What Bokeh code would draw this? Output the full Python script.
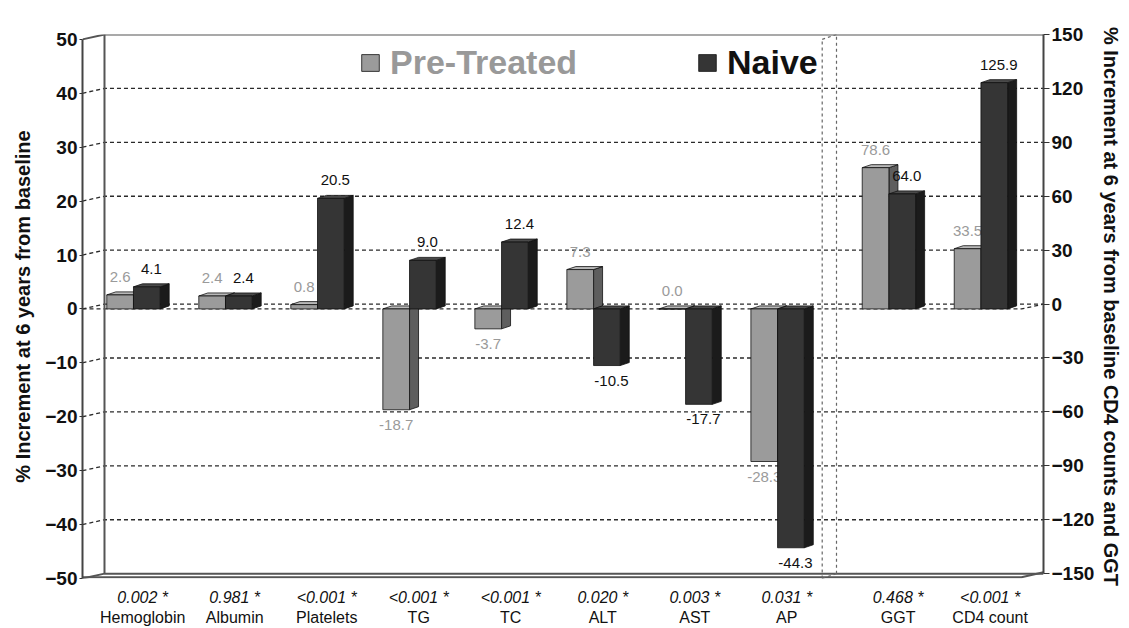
from bokeh.plotting import figure
from bokeh.models import Range1d, LinearAxis, FixedTicker, Legend, LegendItem, ColumnDataSource
from bokeh.core.properties import value
from bokeh.embed import file_html
from bokeh.resources import INLINE

# ---------------- data ----------------
categories = ["Hemoglobin", "Albumin", "Platelets", "TG", "TC", "ALT", "AST", "AP", "GGT", "CD4 count"]
p_values = ["0.002 *", "0.981 *", "<0.001 *", "<0.001 *", "<0.001 *", "0.020 *", "0.003 *", "0.031 *", "0.468 *", "<0.001 *"]
pre_treated = [2.6, 2.4, 0.8, -18.7, -3.7, 7.3, 0.0, -28.3, 78.6, 33.5]
naive = [4.1, 2.4, 20.5, 9.0, 12.4, -10.5, -17.7, -44.3, 64.0, 125.9]
on_right_axis = [False, False, False, False, False, False, False, False, True, True]
left_ticks = [-50, -40, -30, -20, -10, 0, 10, 20, 30, 40, 50]
right_ticks = [-150, -120, -90, -60, -30, 0, 30, 60, 90, 120, 150]

# ---------------- geometry / style ----------------
RIGHT_SCALE = 3.0
GAP = 0.21
BAR_W = 0.29
BDX, BDY = 0.098, 0.56          # bar depth
DX, DY = 0.239, 0.9             # wall depth
X0, X1 = -0.554, 9.89
Y0, Y1 = -50.0, 50.9
FONT = "Liberation Sans"

PRE_FRONT, PRE_SIDE, PRE_TOP = "#9b9b9b", "#5e5e5e", "#b8b8b8"
NAI_FRONT, NAI_SIDE, NAI_TOP = "#353535", "#1b1b1b", "#4a4a4a"
EDGE = "#111111"

pos = [i + (GAP if r else 0.0) for i, r in enumerate(on_right_axis)]
pre_y = [v / RIGHT_SCALE if r else v for v, r in zip(pre_treated, on_right_axis)]
nai_y = [v / RIGHT_SCALE if r else v for v, r in zip(naive, on_right_axis)]

p = figure(width=1129, height=628, output_backend="svg", toolbar_location=None,
           x_range=Range1d(X0, X1), y_range=Range1d(Y0, Y1),
           x_axis_location=None, y_axis_location="left",
           min_border_left=82, min_border_right=86, min_border_top=34, min_border_bottom=50)
p.xgrid.visible = False
p.ygrid.visible = False
p.outline_line_color = None
p.background_fill_color = "white"
p.border_fill_color = "white"

# ---------------- back wall, floor, gridlines ----------------
grid_xs, grid_ys = [], []
for t in left_ticks:
    if t in (-50, 0, 50):
        continue
    grid_xs.append([X0, X0 + DX, X1])
    grid_ys.append([t, t + DY, t + DY])
p.multi_line(grid_xs, grid_ys, line_color="#2a2a2a", line_width=1.3, line_dash="4 3")

# zero plane (front and back edges)
p.multi_line([[X0, X1 - DX, X1], [X0, X0 + DX, X1]],
             [[0, 0, DY], [0, DY, DY]],
             line_color="#2a2a2a", line_width=1.3, line_dash="4 3")

# solid frame: top, back-left vertical, back floor, front floor
p.multi_line([[X0, X0 + DX, X1],
              [X0 + DX, X0 + DX],
              [X0, X0 + DX, X1],
              [X0, X1 - DX, X1]],
             [[Y1 - DY, Y1, Y1],
              [Y0 + DY, Y1],
              [Y0, Y0 + DY, Y0 + DY],
              [Y0 + 0.25, Y0 + 0.25, Y0 + DY + 0.25]],
             line_color="#555555", line_width=2)

# divider between the two axis groups
xd = (pos[7] + pos[8]) / 2 - 0.12
p.multi_line([[xd, xd], [xd + DX * 0.65, xd + DX * 0.65], [xd, xd + DX * 0.65], [xd, xd + DX * 0.65]],
             [[Y0, Y1 - DY], [Y0 + DY, Y1], [Y1 - DY, Y1], [Y0, Y0 + DY]],
             line_color="#666666", line_width=1.2, line_dash="3 3")


def faces(centers, vals):
    side_x, side_y, top_x, top_y = [], [], [], []
    for c, v in zip(centers, vals):
        L, R = c - BAR_W / 2, c + BAR_W / 2
        hi, lo = max(v, 0.0), min(v, 0.0)
        side_x.append([R, R + BDX, R + BDX, R])
        side_y.append([lo, lo + BDY, hi + BDY, hi])
        top_x.append([L, L + BDX, R + BDX, R])
        top_y.append([hi, hi + BDY, hi + BDY, hi])
    return side_x, side_y, top_x, top_y


def value_labels(centers, vals, raw, color, shift):
    up = dict(x=[], y=[], t=[])
    dn = dict(x=[], y=[], t=[])
    for c, v, r in zip(centers, vals, raw):
        d = up if r >= 0 else dn
        d["x"].append(c + shift)
        d["y"].append(v + BDY if r >= 0 else v)
        d["t"].append(f"{r:.1f}")
    p.text(x="x", y="y", text="t", source=ColumnDataSource(up), text_align="center",
           text_baseline="bottom", y_offset=-10, text_color=color,
           text_font=value(FONT), text_font_size="15px")
    p.text(x="x", y="y", text="t", source=ColumnDataSource(dn), text_align="center",
           text_baseline="top", y_offset=10, text_color=color,
           text_font=value(FONT), text_font_size="15px")


pre_c = [c - BAR_W / 2 for c in pos]
nai_c = [c + BAR_W / 2 for c in pos]

sx, sy, tx, ty = faces(pre_c, pre_y)
p.patches(sx, sy, fill_color=PRE_SIDE, line_color=EDGE, line_width=0.8)
p.patches(tx, ty, fill_color=PRE_TOP, line_color=EDGE, line_width=0.8)
pre_front = p.vbar(x=pre_c, width=BAR_W, top=pre_y, bottom=0,
                   fill_color=PRE_FRONT, line_color=EDGE, line_width=0.8)
value_labels(pre_c, pre_y, pre_treated, "#9a9a9a", 0.0)

sx, sy, tx, ty = faces(nai_c, nai_y)
p.patches(sx, sy, fill_color=NAI_SIDE, line_color=EDGE, line_width=0.8)
p.patches(tx, ty, fill_color=NAI_TOP, line_color=EDGE, line_width=0.8)
nai_front = p.vbar(x=nai_c, width=BAR_W, top=nai_y, bottom=0,
                   fill_color=NAI_FRONT, line_color=EDGE, line_width=0.8)
value_labels(nai_c, nai_y, naive, "#111111", BDX / 2)

# ---------------- axes ----------------
yl = p.yaxis[0]
yl.ticker = FixedTicker(ticks=left_ticks)
yl.bounds = (-50, 50)
yl.axis_label = "% Increment at 6 years from baseline"

p.extra_y_ranges = {"right": Range1d(RIGHT_SCALE * (Y0 - DY), RIGHT_SCALE * (Y1 - DY))}
yr = LinearAxis(y_range_name="right", ticker=FixedTicker(ticks=right_ticks), bounds=(-150, 150),
                axis_label="% Increment at 6 years from baseline CD4 counts and GGT")
p.add_layout(yr, "right")

for ax, tick_out, title_gap in ((yl, 3, 8), (yr, 6, 3)):
    ax.axis_line_color = "#444444"
    ax.axis_line_width = 2
    ax.major_tick_out = tick_out
    ax.major_tick_in = 0
    ax.major_tick_line_color = "#333333"
    ax.minor_tick_line_color = None
    ax.major_label_standoff = 2
    ax.major_label_text_font = FONT
    ax.major_label_text_font_style = "bold"
    ax.major_label_text_font_size = "19px"
    ax.major_label_text_color = "#111111"
    ax.axis_label_text_font = FONT
    ax.axis_label_text_font_style = "bold"
    ax.axis_label_text_font_size = "20px"
    ax.axis_label_text_color = "#111111"
    ax.axis_label_standoff = title_gap

label_pos = [round(c + 0.1, 2) for c in pos]
ax_p = LinearAxis(ticker=FixedTicker(ticks=label_pos),
                  major_label_overrides={lp: t for lp, t in zip(label_pos, p_values)},
                  major_label_text_font_style="italic", major_label_standoff=10)
ax_n = LinearAxis(ticker=FixedTicker(ticks=label_pos),
                  major_label_overrides={lp: t for lp, t in zip(label_pos, categories)},
                  major_label_standoff=0)
for ax in (ax_p, ax_n):
    ax.axis_line_color = None
    ax.major_tick_line_color = None
    ax.minor_tick_line_color = None
    ax.major_tick_out = 0
    ax.major_label_text_font = FONT
    ax.major_label_text_font_size = "16px"
    ax.major_label_text_color = "#111111"
    p.add_layout(ax, "below")

# ---------------- legend ----------------
for label, rend, color, loc in (("Pre-Treated", pre_front, "#999999", (277, 496)),
                                ("Naive", nai_front, "#111111", (614, 496))):
    lg = Legend(items=[LegendItem(label=label, renderers=[rend])], location=loc,
                padding=0, margin=0, spacing=0, label_standoff=9,
                glyph_width=22, glyph_height=21,
                label_text_font=FONT, label_text_font_style="bold",
                label_text_font_size="34px", label_text_color=color,
                background_fill_alpha=0, border_line_alpha=0)
    p.add_layout(lg)

open("out.html", "w").write(file_html(p, INLINE))
